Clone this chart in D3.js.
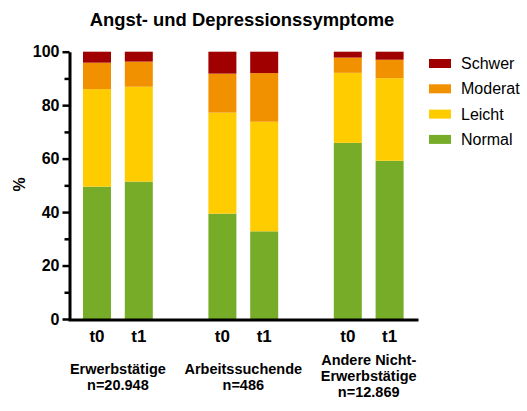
<!DOCTYPE html>
<html><head><meta charset="utf-8">
<script src="https://cdn.jsdelivr.net/npm/d3@7/dist/d3.min.js"></script>
<style>
html,body{margin:0;padding:0;background:#fff;}
svg{display:block;font-family:"Liberation Sans",Arial,sans-serif;}
</style></head>
<body><svg id="c" width="527" height="411"></svg>
<script>
const groups = [["Erwerbstätige","n=20.948"],["Arbeitssuchende","n=486"],["Andere Nicht-","Erwerbstätige","n=12.869"]];
const periods = ["t0","t1"];
const seriesNames = ["Normal","Leicht","Moderat","Schwer"];
const normal  = [49.5, 51.4, 39.4, 32.8, 65.9, 59.2];
const leicht  = [36.5, 35.5, 37.8, 41.0, 26.2, 30.9];
const moderat = [ 9.9,  9.4, 14.6, 18.2,  5.7,  6.9];
const schwer  = [ 4.1,  3.7,  8.2,  8.0,  2.2,  3.0];
const yTicks = [0,20,40,60,80,100];
const colors = {Normal:"#76AC28", Leicht:"#FFCC00", Moderat:"#F29100", Schwer:"#A00000"};

const rows = [];
groups.forEach((g,gi)=>periods.forEach((p,pi)=>{
  const i = gi*2+pi;
  rows.push({slot: gi*3+pi, period:p, Normal:normal[i], Leicht:leicht[i], Moderat:moderat[i], Schwer:schwer[i]});
}));

const svg = d3.select("#c");
const y = d3.scaleLinear().domain([0,100]).range([319,51.7]);
const x = d3.scaleLinear().domain([0,7]).range([97,389.6]);
const bw = 28;

const stack = d3.stack().keys(seriesNames)(rows);
svg.append("g").selectAll("g").data(stack).join("g")
  .attr("fill", d=>colors[d.key])
  .selectAll("rect").data(d=>d).join("rect")
  .attr("x", d=>x(d.data.slot)-bw/2)
  .attr("width", bw)
  .attr("y", d=>y(d[1]))
  .attr("height", d=>y(d[0])-y(d[1]));

// y axis minor
const yMinor = svg.append("g").attr("transform","translate(69.5,0)")
  .call(d3.axisLeft(y).tickValues(d3.range(10,100,20)).tickSize(5).tickFormat(""));
yMinor.select(".domain").remove();
yMinor.selectAll("line").attr("stroke","#000").attr("stroke-width",2.5);
// y axis major
const yAx = svg.append("g").attr("transform","translate(69.5,0)")
  .call(d3.axisLeft(y).tickValues(yTicks).tickSize(7).tickSizeOuter(0).tickPadding(3));
yAx.select(".domain").attr("stroke","#000").attr("stroke-width",3);
yAx.selectAll("line").attr("stroke","#000").attr("stroke-width",2.5);
yAx.selectAll("text").attr("font-size","16px").attr("font-weight","bold").attr("fill","#000")
  .attr("font-family","'Liberation Sans',Arial,sans-serif");

// x axis
const xr = d3.scaleLinear().domain([0,1]).range([68,418]);
const xAx = svg.append("g").attr("transform","translate(0,319.5)")
  .call(d3.axisBottom(xr).tickValues([]).tickSizeOuter(0));
xAx.select(".domain").attr("stroke","#000").attr("stroke-width",3);

// period labels
svg.append("g").selectAll("text").data(rows).join("text")
  .attr("x", d=>x(d.slot)).attr("y", 342)
  .attr("text-anchor","middle").attr("font-size","17px").attr("font-weight","bold")
  .text(d=>d.period);

// group labels
groups.forEach((g,gi)=>{
  const cx = (x(gi*3)+x(gi*3+1))/2;
  const start = g.length===3 ? 365 : 374;
  const t = svg.append("text").attr("text-anchor","middle")
    .attr("font-size","14.5px").attr("font-weight","bold");
  g.forEach((line,li)=>{
    t.append("tspan").attr("x",cx).attr("y",start+li*16).text(line);
  });
});

// title
svg.append("text").attr("x",242).attr("y",26).attr("text-anchor","middle")
  .attr("font-size","18.4px").attr("font-weight","bold").text("Angst- und Depressionssymptome");

// y label
svg.append("text").attr("transform","translate(25,184.5) rotate(-90)")
  .attr("text-anchor","middle").attr("font-size","16px").attr("font-weight","bold").text("%");

// legend
const leg = svg.append("g");
const legOrder = ["Schwer","Moderat","Leicht","Normal"];
legOrder.forEach((k,i)=>{
  const cy = 63.5 + i*25.3;
  leg.append("rect").attr("x",429).attr("y",cy-4.5).attr("width",22).attr("height",9).attr("fill",colors[k]);
  leg.append("text").attr("x",461).attr("y",cy+5.5).attr("font-size","16px").attr("fill","#000").text(k);
});
</script></body></html>
